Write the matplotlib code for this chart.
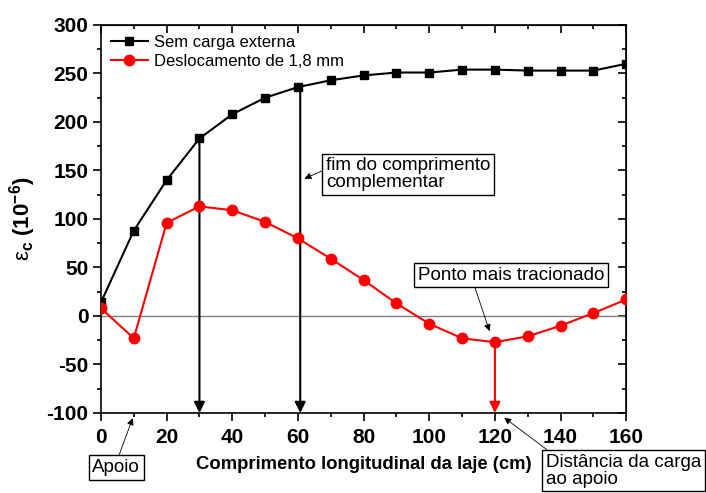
import matplotlib
matplotlib.use("Agg")
from matplotlib import pyplot as plt
from matplotlib.ticker import MultipleLocator

# Data
pos = [0, 10, 20, 30, 40, 50, 60, 70, 80, 90, 100, 110, 120, 130, 140, 150, 160]
sem_carga = [14, 88, 140, 183, 208, 225, 236, 243, 248, 251, 251, 254, 254, 253, 253, 253, 260]
desloc = [8, -23, 96, 113, 109, 97, 80, 59, 37, 13, -8, -23, -27, -21, -10, 3, 17]

plt.rcParams["font.family"] = ["Liberation Sans", "DejaVu Sans"]
plt.rcParams["axes.unicode_minus"] = False
plt.rcParams["mathtext.fontset"] = "custom"
plt.rcParams["mathtext.rm"] = "Liberation Sans"
plt.rcParams["mathtext.bf"] = "Liberation Sans:bold"

fig = plt.figure(figsize=(7.06, 4.93), dpi=100)
ax = fig.add_axes([0.143, 0.1623, 0.744, 0.787])

ax.axhline(0, color="gray", linewidth=1, zorder=1)

ax.plot(pos, sem_carga, color="black", linewidth=1.5, marker="s", markersize=6,
        label="Sem carga externa", zorder=3)
ax.plot(pos, desloc, color="red", linewidth=1.5, marker="o", markersize=7.5,
        label="Deslocamento de 1,8 mm", zorder=3)

# Vertical arrows from curve down to the x axis
arrow_kw = dict(arrowstyle="-|>", mutation_scale=16, linewidth=1.5, shrinkA=0, shrinkB=0)
ax.annotate("", xy=(30, -100), xytext=(30, sem_carga[3]),
            arrowprops=dict(color="black", **arrow_kw), zorder=2)
ax.annotate("", xy=(60.7, -100), xytext=(60.7, sem_carga[6]),
            arrowprops=dict(color="black", **arrow_kw), zorder=2)
ax.annotate("", xy=(120, -100), xytext=(120, desloc[12]),
            arrowprops=dict(color="red", **arrow_kw), zorder=2)

# Text boxes with pointer arrows
box = dict(boxstyle="square,pad=0.2", facecolor="white", edgecolor="black", linewidth=1)


def pointer(rel):
    return dict(arrowstyle="-|>", color="black", linewidth=0.6, mutation_scale=10,
                shrinkA=0, shrinkB=1, relpos=rel)


fs = 13.5
ax.annotate("fim do comprimento\ncomplementar", xy=(61.6, 141), xytext=(68.5, 146),
            fontsize=fs, va="center", ha="left", bbox=box, arrowprops=pointer((0, 0.65)),
            linespacing=1.0)
ax.annotate("Ponto mais tracionado", xy=(118.5, -17), xytext=(96.5, 42),
            fontsize=fs, va="center", ha="left", bbox=box, arrowprops=pointer((0.3, 0)))
ax.annotate("Distância da carga\nao apoio", xy=(122.5, -104), xytext=(135.6, -142),
            fontsize=fs, va="top", ha="left", bbox=box, arrowprops=pointer((0.04, 1)),
            annotation_clip=False, linespacing=1.0)
ax.annotate("Apoio", xy=(9.8, -104), xytext=(-2.6, -156),
            fontsize=fs, va="center", ha="left", bbox=box, arrowprops=pointer((0.53, 1)),
            annotation_clip=False)

ax.set_xlim(0, 160)
ax.set_ylim(-100, 300)
ax.xaxis.set_major_locator(MultipleLocator(20))
ax.xaxis.set_minor_locator(MultipleLocator(10))
ax.yaxis.set_major_locator(MultipleLocator(50))
ax.yaxis.set_minor_locator(MultipleLocator(25))

ax.tick_params(which="both", direction="out", top=False, right=False, width=1.2)
ax.tick_params(which="major", length=6, labelsize=15, pad=3)
ax.tick_params(axis="x", which="major", pad=5)
ax.tick_params(which="minor", length=3)
for lab in ax.get_xticklabels() + ax.get_yticklabels():
    lab.set_fontweight("bold")

# Top and right ticks pointing inward
secx = ax.secondary_xaxis("top")
secx.xaxis.set_major_locator(MultipleLocator(20))
secx.xaxis.set_minor_locator(MultipleLocator(10))
secx.tick_params(which="both", direction="in", labeltop=False, width=1.2)
secx.tick_params(which="major", length=6)
secx.tick_params(which="minor", length=3)
secy = ax.secondary_yaxis("right")
secy.yaxis.set_major_locator(MultipleLocator(50))
secy.yaxis.set_minor_locator(MultipleLocator(25))
secy.tick_params(which="both", direction="in", labelright=False, width=1.2)
secy.tick_params(which="major", length=6)
secy.tick_params(which="minor", length=3)

for s in ax.spines.values():
    s.set_linewidth(1.2)

ax.set_xlabel("Comprimento longitudinal da laje (cm)", fontsize=13.3, fontweight="bold", labelpad=6)
ax.set_ylabel(r"ε$_{\mathbf{c}}$ $\mathbf{(10^{-6})}$", fontsize=16, labelpad=6)

ax.legend(loc="upper left", frameon=False, fontsize=12, handlelength=2.2,
          borderaxespad=0.2, labelspacing=0.25, handletextpad=0.4)

fig.savefig("out.png", dpi=100)
